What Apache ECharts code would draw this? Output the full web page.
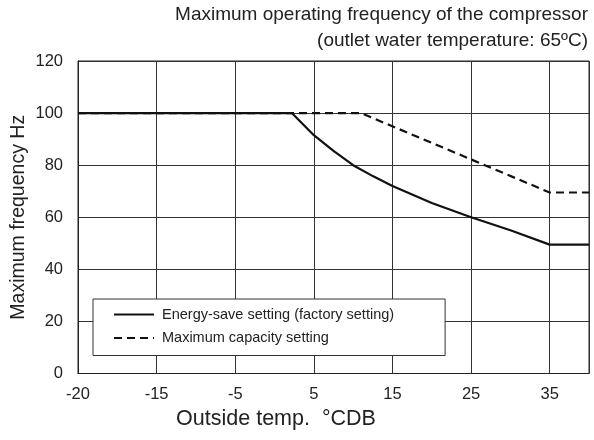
<!DOCTYPE html>
<html>
<head>
<meta charset="utf-8">
<script src="https://cdn.jsdelivr.net/npm/echarts@6/dist/echarts.min.js"></script>
<style>
  html, body { margin: 0; padding: 0; background: #fff; }
  #chart { width: 594px; height: 440px; }
</style>
</head>
<body>
<div id="chart"></div>
<script>
// Outside temperature tick labels (°C). The axis is evenly spaced per tick,
// although the first step is 5 °C and the later ones are 10 °C.
const tempTicks = [-20, -15, -5, 5, 15, 25, 35];
const tempEnd = 40;

// Energy-save setting (factory setting)
const energyTemps = [-20, 2.2, 5, 7.5, 10, 12.5, 15, 20, 25, 30, 35, 40];
const energyFreq  = [100, 100, 91.5, 85.5, 80, 75.8, 72, 65.5, 60, 55, 49.5, 49.5];

// Maximum capacity setting
const capacityTemps = [-20, 11, 35, 40];
const capacityFreq  = [100, 100, 69.5, 69.5];

const seriesNames = ['Energy-save setting (factory setting)', 'Maximum capacity setting'];
const titleLines = [
  'Maximum operating frequency of the compressor',
  '(outlet water temperature: 65ºC)'
];

// Map a temperature onto the tick-indexed axis (piecewise linear between ticks).
function tempToPos(t) {
  const ticks = tempTicks.concat([tempEnd]);
  for (let i = 0; i < ticks.length - 1; i++) {
    if (t <= ticks[i + 1]) {
      const span = (i === ticks.length - 2) ? 0.5 : 1;
      return i + span * (t - ticks[i]) / (ticks[i + 1] - ticks[i]);
    }
  }
  return tempTicks.length - 0.5;
}

function pairs(temps, vals) {
  return temps.map((t, i) => [tempToPos(t), vals[i]]);
}

const font = '"Liberation Sans", Arial, Helvetica, sans-serif';
const ink = '#222';
const chart = echarts.init(document.getElementById('chart'), null, { renderer: 'canvas' });

chart.setOption({
  animation: false,
  backgroundColor: '#fff',
  textStyle: { fontFamily: font },
  title: titleLines.map((line, i) => ({
    text: line,
    right: 6,
    top: 5 + i * 26,
    padding: 0,
    textStyle: { fontFamily: font, fontSize: 19, fontWeight: 'normal', color: ink }
  })),
  grid: {
    left: 78, right: 5, top: 61, bottom: 66.5,
    outerBoundsMode: 'none',
    containLabel: false,
    show: true, borderColor: '#222', borderWidth: 1
  },
  legend: {
    orient: 'vertical',
    left: 93, top: 299,
    padding: [8, 51, 10, 20],
    itemWidth: 40, itemHeight: 16, itemGap: 8.5,
    itemStyle: { opacity: 0 },
    backgroundColor: '#fff',
    borderColor: '#333', borderWidth: 1,
    textStyle: { fontFamily: font, fontSize: 14.5, color: ink, padding: [0, 0, 0, 3] },
    data: seriesNames
  },
  xAxis: {
    type: 'value',
    min: 0, max: tempTicks.length - 0.5, interval: 1,
    name: 'Outside temp.  °CDB',
    nameLocation: 'middle',
    nameGap: 35,
    nameMoveOverlap: false,
    nameTextStyle: { fontFamily: font, fontSize: 21.5, color: ink, padding: [0, 115, 0, 0] },
    axisLine: { show: true, lineStyle: { color: '#222', width: 1 } },
    axisTick: { show: false },
    axisLabel: {
      margin: 12, fontFamily: font, fontSize: 16.5, color: ink,
      formatter: v => (Number.isInteger(v) && v < tempTicks.length) ? String(tempTicks[v]) : ''
    },
    splitLine: { show: true, lineStyle: { color: '#333', width: 1 } }
  },
  yAxis: {
    type: 'value',
    min: 0, max: 120, interval: 20,
    name: 'Maximum frequency Hz',
    nameLocation: 'middle',
    nameGap: 49,
    nameMoveOverlap: false,
    nameRotate: 90,
    nameTextStyle: { fontFamily: font, fontSize: 19.5, color: ink },
    axisLine: { show: true, lineStyle: { color: '#222', width: 1 } },
    axisTick: { show: false },
    axisLabel: { margin: 15, fontFamily: font, fontSize: 16.5, color: ink },
    splitLine: { show: true, lineStyle: { color: '#333', width: 1 } }
  },
  series: [
    {
      name: seriesNames[0],
      type: 'line',
      symbol: 'none',
      z: 3,
      lineStyle: { color: '#111', width: 2.2, type: 'solid' },
      itemStyle: { color: '#111' },
      data: pairs(energyTemps, energyFreq)
    },
    {
      name: seriesNames[1],
      type: 'line',
      symbol: 'none',
      z: 2,
      lineStyle: { color: '#111', width: 2.2, type: [8, 5] },
      itemStyle: { color: '#111' },
      data: pairs(capacityTemps, capacityFreq)
    }
  ]
});
</script>
</body>
</html>
